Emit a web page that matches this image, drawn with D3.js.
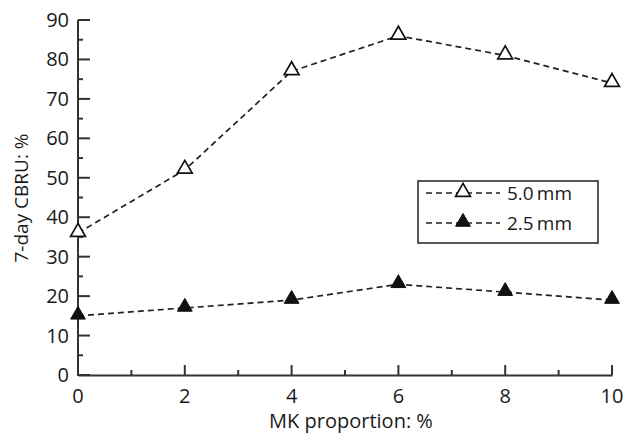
<!DOCTYPE html>
<html lang="en">
<head>
    <meta charset="UTF-8">
    <title>CBRU</title>
    <script src="https://d3js.org/d3.v7.min.js"></script>
    <style>
        body { margin: 0; background: #fff; }
        text { font-family: "Open Sans", "Noto Sans", sans-serif; fill: #1a1a1a; }
    </style>
</head>
<body>
    <svg width="624" height="434"></svg>
    <script>
        const mk = [0, 2, 4, 6, 8, 10];
        const cbru50 = [36, 52, 77, 86, 81, 74];
        const cbru25 = [15, 17, 19, 23, 21, 19];
        const seriesNames = ["5.0\u2009mm", "2.5\u2009mm"];

        const svg = d3.select("svg");
        const x = d3.scaleLinear().domain([0, 10]).range([78, 612]);
        const y = d3.scaleLinear().domain([0, 90]).range([375, 20]);
        const axisColor = "#333";

        // axes with inward ticks, minor ticks between majors
        const gx = svg.append("g").attr("transform", "translate(0,375)");
        gx.call(d3.axisBottom(x).tickValues(d3.range(0, 11, 1)).tickSize(0).tickFormat(""));
        gx.selectAll(".tick line").remove();
        gx.select(".domain").attr("stroke", axisColor).attr("stroke-width", 2);
        d3.range(0, 11, 1).forEach(function (v) {
            gx.append("line").attr("x1", x(v)).attr("x2", x(v))
                .attr("y1", 0).attr("y2", v % 2 === 0 ? -10 : -5)
                .attr("stroke", axisColor).attr("stroke-width", 2);
        });
        mk.forEach(function (v) {
            gx.append("text").attr("x", x(v)).attr("y", 28)
                .attr("text-anchor", "middle").attr("font-size", 20).text(v);
        });

        const gy = svg.append("g");
        gy.append("line").attr("x1", 78).attr("x2", 78).attr("y1", y(0) + 1).attr("y2", y(90))
            .attr("stroke", axisColor).attr("stroke-width", 2);
        d3.range(0, 91, 5).forEach(function (v) {
            gy.append("line").attr("x1", 78).attr("x2", v % 10 === 0 ? 90 : 83)
                .attr("y1", y(v)).attr("y2", y(v))
                .attr("stroke", axisColor).attr("stroke-width", 2);
            if (v % 10 === 0) {
                gy.append("text").attr("x", 69).attr("y", y(v) + 7)
                    .attr("text-anchor", "end").attr("font-size", 20).text(v);
            }
        });

        svg.append("text").attr("transform", "translate(28,198) rotate(-90)")
            .attr("text-anchor", "middle").attr("font-size", 19).text("7-day CBRU: %");
        svg.append("text").attr("x", 351).attr("y", 428)
            .attr("text-anchor", "middle").attr("font-size", 20).text("MK proportion: %");

        const line = d3.line().x(function (d, i) { return x(mk[i]); }).y(function (d) { return y(d); });
        const tri = d3.symbol().type(d3.symbolTriangle).size(95);

        function drawSeries(vals, filled) {
            svg.append("path").attr("d", line(vals)).attr("fill", "none")
                .attr("stroke", "#222").attr("stroke-width", 1.7).attr("stroke-dasharray", "6,4");
            svg.append("g").selectAll("path").data(vals).enter().append("path")
                .attr("d", tri)
                .attr("transform", function (d, i) { return "translate(" + x(mk[i]) + "," + (y(d) - 1) + ")"; })
                .attr("fill", filled ? "#111" : "#fff")
                .attr("stroke", "#111").attr("stroke-width", filled ? 1 : 1.7);
        }
        drawSeries(cbru50, false);
        drawSeries(cbru25, true);

        // legend
        const lg = svg.append("g");
        lg.append("rect").attr("x", 418).attr("y", 181).attr("width", 180).attr("height", 62)
            .attr("fill", "#fff").attr("stroke", "#222").attr("stroke-width", 1.5);
        seriesNames.forEach(function (name, i) {
            const ly = 193 + i * 30;
            lg.append("line").attr("x1", 426).attr("x2", 500).attr("y1", ly).attr("y2", ly)
                .attr("stroke", "#222").attr("stroke-width", 1.7).attr("stroke-dasharray", "6,4");
            lg.append("path").attr("d", tri).attr("transform", "translate(463," + (ly - 1) + ")")
                .attr("fill", i === 0 ? "#fff" : "#111").attr("stroke", "#111")
                .attr("stroke-width", i === 0 ? 1.7 : 1);
            lg.append("text").attr("x", 507).attr("y", ly + 7).attr("font-size", 19).text(name);
        });
    </script>
</body>
</html>
